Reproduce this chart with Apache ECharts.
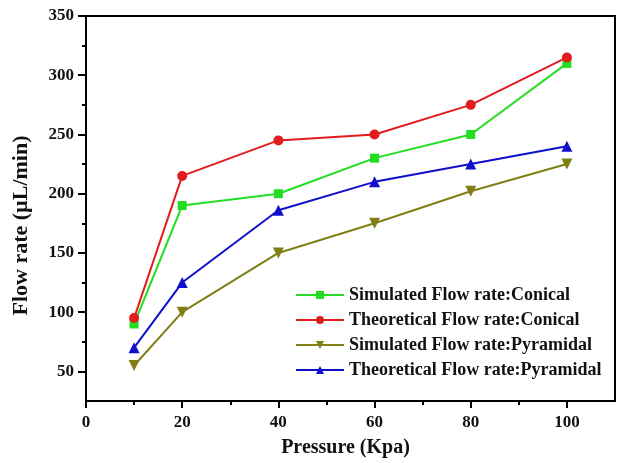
<!DOCTYPE html>
<html>
<head>
<meta charset="utf-8">
<script src="https://cdn.jsdelivr.net/npm/echarts@6/dist/echarts.min.js"></script>
<style>
  html, body { margin: 0; padding: 0; background: #fff; }
  #chart { width: 618px; height: 463px; }
</style>
</head>
<body>
<div id="chart"></div>
<script>
// pressure values (Kpa)
const pressure = [10, 20, 40, 60, 80, 100]
const simConical = [90, 190, 200, 230, 250, 310]
const theoConical = [95, 215, 245, 250, 275, 315]
const simPyramidal = [55, 100, 150, 175, 202, 225]
const theoPyramidal = [70, 125, 186, 210, 225, 240]
const xTicks = [0, 20, 40, 60, 80, 100]
const xMinor = [10, 30, 50, 70, 90]
const yTicks = [50, 100, 150, 200, 250, 300, 350]
const yMinor = [75, 125, 175, 225, 275, 325]

const font = 'Liberation Serif'
const pairs = (ys) => pressure.map((x, i) => [x, ys[i]])

const makeSeries = (name, ys, color, symbol, size) => ({
  name: name,
  type: 'line',
  data: pairs(ys),
  symbol: symbol,
  symbolSize: size,
  lineStyle: {color: color, width: 2},
  itemStyle: {color: color},
  z: 3
})

const chart = echarts.init(document.getElementById('chart'))
chart.setOption({
  animation: false,
  backgroundColor: '#fff',
  textStyle: {fontFamily: font},
  grid: {
    left: 86, top: 16, right: 3, bottom: 59,
    show: true, borderColor: '#000', borderWidth: 2
  },
  legend: {
    orient: 'vertical',
    left: 290, top: 281,
    itemWidth: 48, itemHeight: 10, itemGap: 7,
    textStyle: {fontFamily: font, fontWeight: 'bold', fontSize: 18, color: '#111'}
  },
  xAxis: [
    {
      type: 'value', min: 0, max: 110,
      name: 'Pressure (Kpa)', nameLocation: 'middle', nameGap: 37,
      nameTextStyle: {fontFamily: font, fontWeight: 'bold', fontSize: 20, color: '#111', padding: [0, 10, 0, 0]},
      axisLine: {lineStyle: {color: '#000', width: 2}},
      axisTick: {customValues: xTicks, length: 7, lineStyle: {color: '#000', width: 2}},
      axisLabel: {customValues: xTicks, margin: 13, fontFamily: font, fontWeight: 'bold', fontSize: 17, color: '#111'},
      splitLine: {show: false}
    },
    {
      type: 'value', min: 0, max: 110, position: 'bottom', gridIndex: 0,
      axisLine: {show: false},
      axisTick: {customValues: xMinor, length: 4, lineStyle: {color: '#000', width: 2}},
      axisLabel: {show: false},
      splitLine: {show: false}
    }
  ],
  yAxis: [
    {
      type: 'value', min: 25, max: 350,
      name: 'Flow rate (\u00b5L/min)', nameLocation: 'middle', nameGap: 54,
      nameTextStyle: {fontFamily: font, fontWeight: 'bold', fontSize: 22, color: '#111', padding: [0, 34, 0, 0]},
      axisLine: {lineStyle: {color: '#000', width: 2}},
      axisTick: {customValues: yTicks, length: 8, lineStyle: {color: '#000', width: 2}},
      axisLabel: {customValues: yTicks, margin: 12, fontFamily: font, fontWeight: 'bold', fontSize: 17, color: '#111'},
      splitLine: {show: false}
    },
    {
      type: 'value', min: 25, max: 350, position: 'left',
      axisLine: {show: false},
      axisTick: {customValues: yMinor, length: 4, lineStyle: {color: '#000', width: 2}},
      axisLabel: {show: false},
      splitLine: {show: false}
    }
  ],
  series: [
    makeSeries('Simulated Flow rate:Conical', simConical, '#22dd22', 'rect', 9),
    makeSeries('Theoretical Flow rate:Conical', theoConical, '#e21c1c', 'circle', 10),
    makeSeries('Simulated Flow rate:Pyramidal', simPyramidal, '#7f7f14', 'path://M0,0 L10,0 L5,9 Z', 11),
    makeSeries('Theoretical Flow rate:Pyramidal', theoPyramidal, '#1010cc', 'triangle', 11)
  ]
})
</script>
</body>
</html>
